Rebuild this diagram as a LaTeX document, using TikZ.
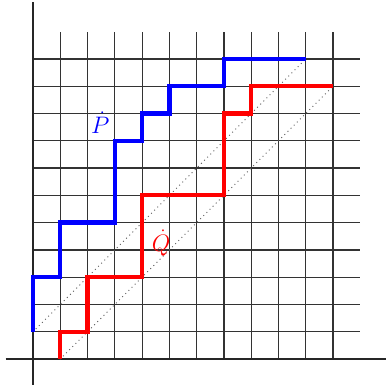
\documentclass[tikz,border=0pt]{standalone}
\usepackage{amsmath,amssymb}
\usepackage{tikz}
\usetikzlibrary{positioning}
\definecolor{pathblue}{HTML}{0000FF}
\definecolor{pathred}{HTML}{FF0000}
\begin{document}
\begin{tikzpicture}[x=1cm,y=1cm, every node/.style={font=\Huge}]
\useasboundingbox (-1.21,-0.95) rectangle (12.94,13.16);
% grid
\foreach \y in {1,...,11} \draw[black!80,line width=1.3pt] (0,\y) -- (12,\y);
\foreach \x in {1,...,11} \draw[black!80,line width=1.3pt] (\x,0) -- (\x,12);
% axes
\draw[black!85,line width=1.3pt] (-1,0) -- (13,0);
\draw[black!85,line width=1.3pt] (0,-1) -- (0,13.1);
% diagonals
\draw[black!65,line width=1.4pt,line cap=round,dash pattern=on 0pt off 4.6pt] (0,1) -- (10,11);
\draw[black!65,line width=1.4pt,line cap=round,dash pattern=on 0pt off 4.6pt] (1,0) -- (11,10);
% lattice paths
\draw[pathblue,line width=4.5pt] (0,1) -- (0,3) -- (1,3) -- (1,5) -- (3,5) -- (3,8) -- (4,8) -- (4,9) -- (5,9) -- (5,10) -- (7,10) -- (7,11) -- (10,11);
\draw[pathred,line width=4.5pt] (1,0) -- (1,1) -- (2,1) -- (2,3) -- (4,3) -- (4,6) -- (7,6) -- (7,9) -- (8,9) -- (8,10) -- (11,10);
\node[pathblue] (Pdot) at (2.47,8.65) {$\dot{P}$};
\node[pathred] (Qdot) at (4.7,4.25) {$\dot{Q}$};
\end{tikzpicture}
\end{document}
